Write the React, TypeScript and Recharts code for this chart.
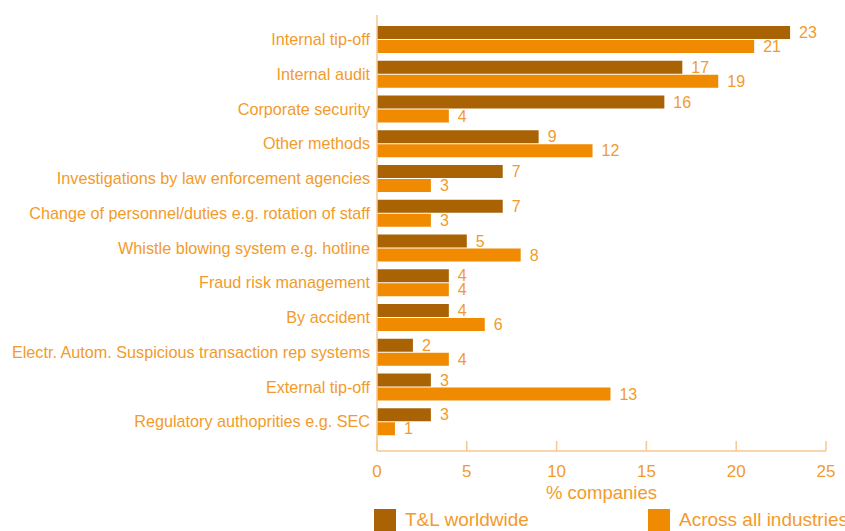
import { BarChart, Bar, XAxis, YAxis, Legend, LabelList } from "recharts";

const categories = [
  "Internal tip-off",
  "Internal audit",
  "Corporate security",
  "Other methods",
  "Investigations by law enforcement agencies",
  "Change of personnel/duties e.g. rotation of staff",
  "Whistle blowing system e.g. hotline",
  "Fraud risk management",
  "By accident",
  "Electr. Autom. Suspicious transaction rep systems",
  "External tip-off",
  "Regulatory authoprities e.g. SEC",
];
const tlWorldwide = [23, 17, 16, 9, 7, 7, 5, 4, 4, 2, 3, 3];
const allIndustries = [21, 19, 4, 12, 3, 3, 8, 4, 6, 4, 13, 1];
const xTicks = [0, 5, 10, 15, 20, 25];

const DARK = "#A96305";
const ORANGE = "#F08A00";
const TEXT = "#F29B2C";
const AXIS = "#F7C795";
const FONT = "'Liberation Sans', Arial, sans-serif";

const data = categories.map((name, i) => ({
  name,
  tl: tlWorldwide[i],
  all: allIndustries[i],
}));

function LegendBox() {
  const item = (color: string, label: string, left: number) => (
    <div style={{ position: "absolute", left, top: 0, display: "flex", alignItems: "center" }}>
      <div style={{ width: 22, height: 22, background: color, marginRight: 9 }} />
      <span style={{ color: TEXT, fontSize: 19, fontFamily: FONT, whiteSpace: "nowrap" }}>{label}</span>
    </div>
  );
  return (
    <div style={{ position: "relative", width: 845, height: 24 }}>
      {item(DARK, "T&L worldwide", 374)}
      {item(ORANGE, "Across all industries", 648)}
    </div>
  );
}

export default function App() {
  return (
    <div style={{ position: "absolute", left: 0, top: 0, width: 845, height: 531, overflow: "hidden", background: "#fff" }}>
      <BarChart
        width={845}
        height={531}
        data={data}
        layout="vertical"
        margin={{ top: 15, right: 19, left: 0, bottom: 8 }}
        barSize={13}
        barGap={1}
      >
        <XAxis
          type="number"
          domain={[0, 25]}
          ticks={xTicks}
          tick={{ fontSize: 17, fill: TEXT, fontFamily: FONT }}
          axisLine={{ stroke: AXIS, strokeWidth: 1.5 }}
          tickLine={{ stroke: AXIS, strokeWidth: 1.5 }}
          tickSize={-10}
          tickMargin={24}
          height={48}
          label={{ value: "% companies", position: "insideBottom", offset: 0, fill: TEXT, fontSize: 18.5, fontFamily: FONT }}
        />
        <YAxis
          type="category"
          dataKey="name"
          width={377}
          tick={{ fontSize: 16.2, fill: TEXT, fontFamily: FONT }}
          axisLine={{ stroke: AXIS, strokeWidth: 1.5 }}
          tickLine={false}
          tickSize={0}
          tickMargin={7}
          padding={{ top: 7, bottom: 12 }}
          interval={0}
        />
        <Legend
          content={() => <LegendBox />}
          wrapperStyle={{ left: 0, top: 509, width: 845 }}
        />
        <Bar dataKey="tl" fill={DARK} isAnimationActive={false}>
          <LabelList dataKey="tl" position="right" offset={9} fill={TEXT} fontSize={16} fontFamily={FONT} />
        </Bar>
        <Bar dataKey="all" fill={ORANGE} isAnimationActive={false}>
          <LabelList dataKey="all" position="right" offset={9} fill={TEXT} fontSize={16} fontFamily={FONT} />
        </Bar>
      </BarChart>
    </div>
  );
}
